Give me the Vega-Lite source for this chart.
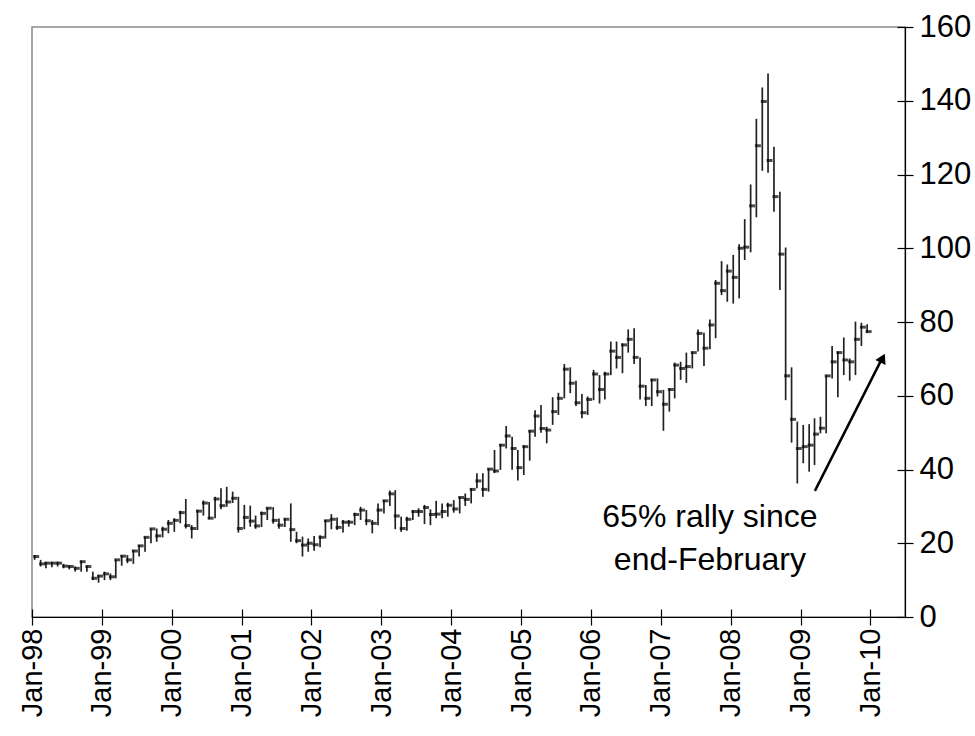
{
  "$schema": "https://vega.github.io/schema/vega-lite/v6.json",
  "width": 873,
  "height": 590,
  "autosize": {"type": "none"},
  "padding": {"left": 32, "top": 27, "right": 70, "bottom": 119},
  "background": "white",
  "config": {
    "view": {"stroke": "#8a8a8a", "strokeWidth": 1.5},
    "font": "Liberation Sans",
    "axis": {
      "labelFont": "Liberation Sans",
      "labelFontSize": 29,
      "labelColor": "black",
      "domainColor": "black",
      "domainWidth": 1.2,
      "tickColor": "black",
      "tickWidth": 1.2,
      "grid": false,
      "title": null
    }
  },
  "data": {
    "values": [
      {"month": "1998-01-15", "high": 16.8, "low": 15.5, "close": 16.4},
      {"month": "1998-02-15", "high": 15.5, "low": 13.7, "close": 14.4},
      {"month": "1998-03-15", "high": 15.0, "low": 13.2, "close": 14.6},
      {"month": "1998-04-15", "high": 15.0, "low": 13.5, "close": 14.6},
      {"month": "1998-05-15", "high": 15.0, "low": 13.7, "close": 14.6},
      {"month": "1998-06-15", "high": 14.4, "low": 13.2, "close": 13.8},
      {"month": "1998-07-15", "high": 14.0, "low": 12.9, "close": 13.7},
      {"month": "1998-08-15", "high": 13.7, "low": 12.3, "close": 13.2},
      {"month": "1998-09-15", "high": 15.3, "low": 12.3, "close": 15.0},
      {"month": "1998-10-15", "high": 13.9, "low": 12.3, "close": 13.7},
      {"month": "1998-11-15", "high": 12.3, "low": 10.0, "close": 10.5},
      {"month": "1998-12-15", "high": 11.4, "low": 9.3, "close": 11.1},
      {"month": "1999-01-15", "high": 12.3, "low": 10.0, "close": 11.7},
      {"month": "1999-02-15", "high": 11.8, "low": 10.0, "close": 10.9},
      {"month": "1999-03-15", "high": 15.6, "low": 10.5, "close": 15.5},
      {"month": "1999-04-15", "high": 16.8, "low": 13.9, "close": 16.5},
      {"month": "1999-05-15", "high": 16.8, "low": 14.6, "close": 15.5},
      {"month": "1999-06-15", "high": 18.2, "low": 14.4, "close": 17.9},
      {"month": "1999-07-15", "high": 19.5, "low": 16.4, "close": 19.3},
      {"month": "1999-08-15", "high": 21.8, "low": 17.7, "close": 21.6},
      {"month": "1999-09-15", "high": 24.0, "low": 20.0, "close": 23.9},
      {"month": "1999-10-15", "high": 24.0, "low": 20.4, "close": 22.0},
      {"month": "1999-11-15", "high": 24.5, "low": 21.6, "close": 23.8},
      {"month": "1999-12-15", "high": 26.3, "low": 22.7, "close": 25.4},
      {"month": "2000-01-15", "high": 26.8, "low": 23.1, "close": 26.2},
      {"month": "2000-02-15", "high": 28.8, "low": 25.4, "close": 28.3},
      {"month": "2000-03-15", "high": 32.0, "low": 24.0, "close": 24.8},
      {"month": "2000-04-15", "high": 24.9, "low": 21.3, "close": 24.0},
      {"month": "2000-05-15", "high": 29.1, "low": 23.6, "close": 28.7},
      {"month": "2000-06-15", "high": 31.6, "low": 27.5, "close": 30.9},
      {"month": "2000-07-15", "high": 31.2, "low": 26.5, "close": 26.8},
      {"month": "2000-08-15", "high": 32.6, "low": 26.8, "close": 32.0},
      {"month": "2000-09-15", "high": 34.9, "low": 29.2, "close": 30.2},
      {"month": "2000-10-15", "high": 35.3, "low": 29.9, "close": 31.2},
      {"month": "2000-11-15", "high": 34.0, "low": 30.9, "close": 32.2},
      {"month": "2000-12-15", "high": 32.6, "low": 22.9, "close": 24.0},
      {"month": "2001-01-15", "high": 30.4, "low": 23.8, "close": 27.0},
      {"month": "2001-02-15", "high": 30.2, "low": 24.5, "close": 26.0},
      {"month": "2001-03-15", "high": 27.5, "low": 23.9, "close": 24.7},
      {"month": "2001-04-15", "high": 28.6, "low": 24.4, "close": 28.1},
      {"month": "2001-05-15", "high": 29.7, "low": 26.3, "close": 29.5},
      {"month": "2001-06-15", "high": 29.8, "low": 25.3, "close": 26.2},
      {"month": "2001-07-15", "high": 26.7, "low": 23.9, "close": 24.9},
      {"month": "2001-08-15", "high": 26.8, "low": 24.4, "close": 26.5},
      {"month": "2001-09-15", "high": 30.8, "low": 20.4, "close": 23.7},
      {"month": "2001-10-15", "high": 23.1, "low": 20.0, "close": 20.7},
      {"month": "2001-11-15", "high": 21.8, "low": 16.4, "close": 19.5},
      {"month": "2001-12-15", "high": 21.3, "low": 17.7, "close": 20.0},
      {"month": "2002-01-15", "high": 22.0, "low": 18.0, "close": 19.6},
      {"month": "2002-02-15", "high": 22.2, "low": 18.9, "close": 21.6},
      {"month": "2002-03-15", "high": 26.3, "low": 21.3, "close": 26.1},
      {"month": "2002-04-15", "high": 27.9, "low": 23.8, "close": 26.5},
      {"month": "2002-05-15", "high": 27.0, "low": 23.6, "close": 24.3},
      {"month": "2002-06-15", "high": 26.3, "low": 22.9, "close": 25.7},
      {"month": "2002-07-15", "high": 26.3, "low": 24.5, "close": 25.7},
      {"month": "2002-08-15", "high": 28.3, "low": 24.9, "close": 27.8},
      {"month": "2002-09-15", "high": 29.9, "low": 26.3, "close": 29.0},
      {"month": "2002-10-15", "high": 29.0, "low": 24.9, "close": 26.1},
      {"month": "2002-11-15", "high": 26.3, "low": 22.7, "close": 25.4},
      {"month": "2002-12-15", "high": 30.8, "low": 24.9, "close": 29.0},
      {"month": "2003-01-15", "high": 31.7, "low": 28.1, "close": 31.5},
      {"month": "2003-02-15", "high": 34.3, "low": 30.1, "close": 33.4},
      {"month": "2003-03-15", "high": 34.4, "low": 23.8, "close": 27.4},
      {"month": "2003-04-15", "high": 27.2, "low": 23.1, "close": 24.0},
      {"month": "2003-05-15", "high": 27.2, "low": 23.4, "close": 26.5},
      {"month": "2003-06-15", "high": 29.0, "low": 26.3, "close": 28.6},
      {"month": "2003-07-15", "high": 29.5, "low": 27.2, "close": 28.6},
      {"month": "2003-08-15", "high": 30.4, "low": 25.2, "close": 29.7},
      {"month": "2003-09-15", "high": 29.2, "low": 24.9, "close": 27.8},
      {"month": "2003-10-15", "high": 31.5, "low": 26.8, "close": 27.9},
      {"month": "2003-11-15", "high": 30.8, "low": 26.8, "close": 28.6},
      {"month": "2003-12-15", "high": 31.0, "low": 27.2, "close": 30.3},
      {"month": "2004-01-15", "high": 31.7, "low": 28.3, "close": 29.3},
      {"month": "2004-02-15", "high": 32.6, "low": 28.1, "close": 32.4},
      {"month": "2004-03-15", "high": 33.5, "low": 30.1, "close": 31.9},
      {"month": "2004-04-15", "high": 34.9, "low": 30.8, "close": 34.6},
      {"month": "2004-05-15", "high": 39.0, "low": 34.9, "close": 36.9},
      {"month": "2004-06-15", "high": 39.0, "low": 32.6, "close": 34.6},
      {"month": "2004-07-15", "high": 40.3, "low": 34.0, "close": 40.1},
      {"month": "2004-08-15", "high": 45.3, "low": 39.0, "close": 39.6},
      {"month": "2004-09-15", "high": 46.9, "low": 39.9, "close": 46.6},
      {"month": "2004-10-15", "high": 51.8, "low": 45.7, "close": 49.1},
      {"month": "2004-11-15", "high": 48.9, "low": 39.9, "close": 45.7},
      {"month": "2004-12-15", "high": 45.3, "low": 37.0, "close": 40.5},
      {"month": "2005-01-15", "high": 46.6, "low": 38.5, "close": 46.2},
      {"month": "2005-02-15", "high": 50.7, "low": 42.4, "close": 50.4},
      {"month": "2005-03-15", "high": 56.1, "low": 48.9, "close": 54.5},
      {"month": "2005-04-15", "high": 57.5, "low": 50.0, "close": 51.1},
      {"month": "2005-05-15", "high": 51.6, "low": 47.1, "close": 50.7},
      {"month": "2005-06-15", "high": 59.6, "low": 52.1, "close": 55.7},
      {"month": "2005-07-15", "high": 60.8, "low": 54.8, "close": 59.3},
      {"month": "2005-08-15", "high": 68.6, "low": 59.3, "close": 67.2},
      {"month": "2005-09-15", "high": 67.7, "low": 60.7, "close": 63.4},
      {"month": "2005-10-15", "high": 64.1, "low": 57.2, "close": 58.1},
      {"month": "2005-11-15", "high": 60.5, "low": 53.9, "close": 55.4},
      {"month": "2005-12-15", "high": 59.8, "low": 54.8, "close": 59.0},
      {"month": "2006-01-15", "high": 67.0, "low": 58.8, "close": 65.9},
      {"month": "2006-02-15", "high": 65.6, "low": 57.9, "close": 61.7},
      {"month": "2006-03-15", "high": 66.5, "low": 59.0, "close": 65.9},
      {"month": "2006-04-15", "high": 74.7, "low": 65.6, "close": 72.1},
      {"month": "2006-05-15", "high": 74.7, "low": 67.4, "close": 70.4},
      {"month": "2006-06-15", "high": 74.2, "low": 66.1, "close": 73.8},
      {"month": "2006-07-15", "high": 78.0, "low": 71.7, "close": 75.3},
      {"month": "2006-08-15", "high": 78.3, "low": 68.6, "close": 70.4},
      {"month": "2006-09-15", "high": 70.4, "low": 59.0, "close": 62.6},
      {"month": "2006-10-15", "high": 62.9, "low": 57.2, "close": 59.3},
      {"month": "2006-11-15", "high": 64.5, "low": 57.2, "close": 64.3},
      {"month": "2006-12-15", "high": 64.7, "low": 59.8, "close": 61.1},
      {"month": "2007-01-15", "high": 61.6, "low": 50.5, "close": 57.7},
      {"month": "2007-02-15", "high": 62.0, "low": 55.7, "close": 61.7},
      {"month": "2007-03-15", "high": 69.0, "low": 59.3, "close": 68.3},
      {"month": "2007-04-15", "high": 69.2, "low": 64.3, "close": 67.4},
      {"month": "2007-05-15", "high": 71.7, "low": 63.5, "close": 67.9},
      {"month": "2007-06-15", "high": 72.0, "low": 67.4, "close": 71.7},
      {"month": "2007-07-15", "high": 78.0, "low": 72.0, "close": 76.9},
      {"month": "2007-08-15", "high": 77.1, "low": 68.1, "close": 72.9},
      {"month": "2007-09-15", "high": 80.7, "low": 72.6, "close": 79.2},
      {"month": "2007-10-15", "high": 91.4, "low": 75.6, "close": 90.5},
      {"month": "2007-11-15", "high": 96.5, "low": 87.3, "close": 88.5},
      {"month": "2007-12-15", "high": 95.6, "low": 85.5, "close": 93.8},
      {"month": "2008-01-15", "high": 98.2, "low": 85.0, "close": 92.1},
      {"month": "2008-02-15", "high": 101.1, "low": 86.4, "close": 100.0},
      {"month": "2008-03-15", "high": 107.9, "low": 96.8, "close": 100.3},
      {"month": "2008-04-15", "high": 117.3, "low": 98.9, "close": 111.5},
      {"month": "2008-05-15", "high": 135.1, "low": 108.4, "close": 127.8},
      {"month": "2008-06-15", "high": 143.6, "low": 121.0, "close": 139.8},
      {"month": "2008-07-15", "high": 147.4, "low": 120.5, "close": 123.8},
      {"month": "2008-08-15", "high": 127.5, "low": 109.9, "close": 114.0},
      {"month": "2008-09-15", "high": 115.3, "low": 88.7, "close": 98.4},
      {"month": "2008-10-15", "high": 100.2, "low": 58.8, "close": 65.4},
      {"month": "2008-11-15", "high": 67.7, "low": 47.3, "close": 53.6},
      {"month": "2008-12-15", "high": 53.0, "low": 36.2, "close": 45.7},
      {"month": "2009-01-15", "high": 52.1, "low": 41.7, "close": 46.2},
      {"month": "2009-02-15", "high": 52.3, "low": 39.4, "close": 46.6},
      {"month": "2009-03-15", "high": 53.9, "low": 41.2, "close": 49.6},
      {"month": "2009-04-15", "high": 54.3, "low": 49.8, "close": 51.2},
      {"month": "2009-05-15", "high": 65.6, "low": 49.8, "close": 65.4},
      {"month": "2009-06-15", "high": 73.5, "low": 64.7, "close": 69.2},
      {"month": "2009-07-15", "high": 72.0, "low": 59.6, "close": 71.7},
      {"month": "2009-08-15", "high": 75.8, "low": 65.6, "close": 69.7},
      {"month": "2009-09-15", "high": 70.1, "low": 64.1, "close": 69.2},
      {"month": "2009-10-15", "high": 80.1, "low": 65.6, "close": 75.3},
      {"month": "2009-11-15", "high": 79.8, "low": 73.5, "close": 78.6},
      {"month": "2009-12-15", "high": 79.4, "low": 77.1, "close": 77.4}
    ]
  },
  "layer": [
    {
      "mark": {"type": "rule", "color": "#222222", "strokeWidth": 1.7},
      "encoding": {
        "x": {
          "field": "month",
          "type": "temporal",
          "scale": {
            "type": "utc",
            "domain": [
              {"year": 1998, "month": 1, "date": 1, "utc": true},
              {"year": 2010, "month": 7, "date": 1, "utc": true}
            ]
          },
          "axis": {
            "orient": "bottom",
            "values": [
              {"year": 1998, "month": 1, "date": 1, "utc": true},
              {"year": 1999, "month": 1, "date": 1, "utc": true},
              {"year": 2000, "month": 1, "date": 1, "utc": true},
              {"year": 2001, "month": 1, "date": 1, "utc": true},
              {"year": 2002, "month": 1, "date": 1, "utc": true},
              {"year": 2003, "month": 1, "date": 1, "utc": true},
              {"year": 2004, "month": 1, "date": 1, "utc": true},
              {"year": 2005, "month": 1, "date": 1, "utc": true},
              {"year": 2006, "month": 1, "date": 1, "utc": true},
              {"year": 2007, "month": 1, "date": 1, "utc": true},
              {"year": 2008, "month": 1, "date": 1, "utc": true},
              {"year": 2009, "month": 1, "date": 1, "utc": true},
              {"year": 2010, "month": 1, "date": 1, "utc": true}
            ],
            "format": "%b-%y",
            "labelAngle": 270,
            "labelAlign": "right",
            "labelBaseline": "middle",
            "ticks": false,
            "labelPadding": 11,
            "labelOverlap": false,
            "labelFlush": false
          }
        },
        "y": {
          "field": "low",
          "type": "quantitative",
          "scale": {"domain": [0, 160], "nice": false, "zero": true},
          "axis": {
            "orient": "right",
            "values": [0, 20, 40, 60, 80, 100, 120, 140, 160],
            "ticks": false,
            "labelPadding": 14,
            "labelFontSize": 31,
            "labelAlign": "left",
            "labelBaseline": "middle",
            "labelFlush": false,
            "labelOverlap": false
          }
        },
        "y2": {"field": "high"}
      }
    },
    {
      "mark": {"type": "tick", "orient": "horizontal", "color": "black", "size": 6, "thickness": 3, "xOffset": 1.5},
      "encoding": {
        "x": {
          "field": "month",
          "type": "temporal",
          "axis": {
            "orient": "bottom",
            "values": [
              {"year": 1998, "month": 1, "date": 1, "utc": true},
              {"year": 1999, "month": 1, "date": 1, "utc": true},
              {"year": 2000, "month": 1, "date": 1, "utc": true},
              {"year": 2001, "month": 1, "date": 1, "utc": true},
              {"year": 2002, "month": 1, "date": 1, "utc": true},
              {"year": 2003, "month": 1, "date": 1, "utc": true},
              {"year": 2004, "month": 1, "date": 1, "utc": true},
              {"year": 2005, "month": 1, "date": 1, "utc": true},
              {"year": 2006, "month": 1, "date": 1, "utc": true},
              {"year": 2007, "month": 1, "date": 1, "utc": true},
              {"year": 2008, "month": 1, "date": 1, "utc": true},
              {"year": 2009, "month": 1, "date": 1, "utc": true},
              {"year": 2010, "month": 1, "date": 1, "utc": true}
            ],
            "offset": -8,
            "tickSize": 16,
            "labels": false,
            "domain": false
          }
        },
        "y": {
          "field": "close",
          "type": "quantitative",
          "axis": {
            "orient": "right",
            "values": [0, 20, 40, 60, 80, 100, 120, 140, 160],
            "offset": -8,
            "tickSize": 16,
            "labels": false,
            "domain": false
          }
        }
      }
    },
    {
      "data": {"values": [{"note": "65% rally since\nend-February"}]},
      "mark": {
        "type": "text",
        "font": "Liberation Sans",
        "fontSize": 32,
        "color": "black",
        "align": "center",
        "baseline": "middle",
        "lineBreak": "\n",
        "lineHeight": 43
      },
      "encoding": {
        "text": {"field": "note"},
        "x": {"datum": {"year": 2007, "month": 9, "date": 15, "utc": true}, "type": "temporal", "axis": null},
        "y": {"datum": 27.1, "type": "quantitative", "axis": null}
      }
    },
    {
      "data": {"values": [{}]},
      "mark": {"type": "rule", "color": "black", "strokeWidth": 2.5},
      "encoding": {
        "x": {"datum": {"year": 2009, "month": 3, "date": 17, "utc": true}, "type": "temporal", "axis": null},
        "y": {"datum": 34.2, "type": "quantitative", "axis": null},
        "x2": {"datum": {"year": 2010, "month": 3, "date": 8, "utc": true}},
        "y2": {"datum": 70.6}
      }
    },
    {
      "data": {"values": [{}]},
      "mark": {"type": "point", "shape": "triangle-up", "filled": true, "color": "black", "opacity": 1, "size": 130, "angle": 26.4},
      "encoding": {
        "x": {"datum": {"year": 2010, "month": 3, "date": 6, "utc": true}, "type": "temporal", "axis": null},
        "y": {"datum": 70.2, "type": "quantitative", "axis": null}
      }
    }
  ],
  "resolve": {"axis": {"x": "independent", "y": "independent"}}
}
